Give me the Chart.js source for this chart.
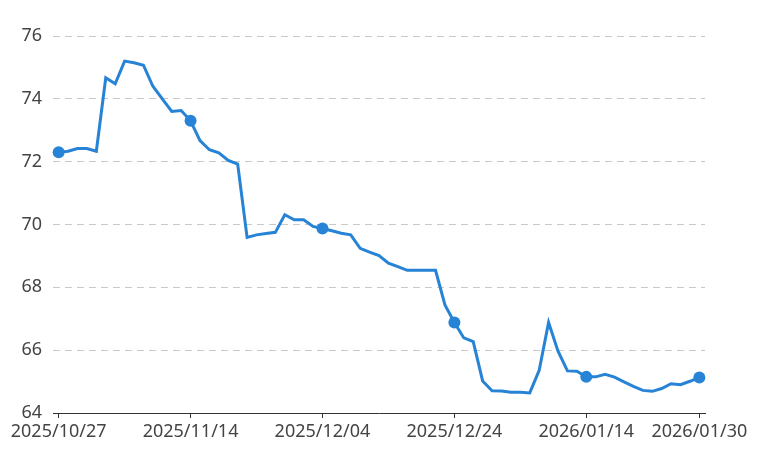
<!DOCTYPE html>
<html>
<head>
<meta charset="utf-8">
<script src="https://cdn.jsdelivr.net/npm/chart.js@4"></script>
<style>
  html, body { margin: 0; padding: 0; background: #fff; }
  #wrap { width: 771px; height: 450px; }
</style>
</head>
<body>
<div id="wrap"><canvas id="chart_price"></canvas></div>
<script>
// fechas (dias de mercado) y precios
const fechas = [
  '2025/10/27', '2025/10/28', '2025/10/29', '2025/10/30', '2025/10/31',
  '2025/11/03', '2025/11/04', '2025/11/05', '2025/11/06', '2025/11/07',
  '2025/11/10', '2025/11/11', '2025/11/12', '2025/11/13', '2025/11/14',
  '2025/11/17', '2025/11/18', '2025/11/19', '2025/11/20', '2025/11/21',
  '2025/11/24', '2025/11/25', '2025/11/26', '2025/11/27', '2025/11/28',
  '2025/12/01', '2025/12/02', '2025/12/03', '2025/12/04', '2025/12/05',
  '2025/12/08', '2025/12/09', '2025/12/10', '2025/12/11', '2025/12/12',
  '2025/12/15', '2025/12/16', '2025/12/17', '2025/12/18', '2025/12/19',
  '2025/12/22', '2025/12/23', '2025/12/24', '2025/12/25', '2025/12/26',
  '2025/12/29', '2025/12/30', '2025/12/31', '2026/01/02', '2026/01/05',
  '2026/01/06', '2026/01/07', '2026/01/08', '2026/01/09', '2026/01/12',
  '2026/01/13', '2026/01/14', '2026/01/15', '2026/01/16', '2026/01/19',
  '2026/01/20', '2026/01/21', '2026/01/22', '2026/01/23', '2026/01/26',
  '2026/01/27', '2026/01/28', '2026/01/29', '2026/01/30'
]
const precios = [
  72.30, 72.33, 72.42, 72.42, 72.33, 74.67, 74.48, 75.20, 75.15, 75.07,
  74.40, 74.00, 73.60, 73.63, 73.30, 72.67, 72.38, 72.28, 72.04, 71.92,
  69.59, 69.67, 69.71, 69.75, 70.31, 70.15, 70.15, 69.94, 69.87, 69.80,
  69.72, 69.67, 69.24, 69.12, 69.01, 68.77, 68.66, 68.54, 68.54, 68.54,
  68.54, 67.44, 66.88, 66.39, 66.27, 65.02, 64.71, 64.70, 64.66, 64.66,
  64.64, 65.36, 66.88, 65.97, 65.34, 65.33, 65.15, 65.15, 65.23, 65.14,
  64.99, 64.85, 64.72, 64.69, 64.78, 64.93, 64.90, 65.01, 65.13
]
// indices con etiqueta en el eje x (y con punto marcado)
const tick_idx = [0, 14, 28, 42, 56, 68]
const y_ticks = [64, 66, 68, 70, 72, 74, 76]

const text_color = '#444'
const line_color = '#2683d6'

let chart = document.querySelector('#chart_price')
let datos = {
    data: precios.map((p, i) => ({ x: i, y: p })),
    borderColor: line_color,
    backgroundColor: line_color,
    borderWidth: 3,
    tension: 0,
    clip: false,
    pointRadius: ctx => tick_idx.includes(ctx.dataIndex) ? 6 : 0,
    pointHoverRadius: 0,
    pointBorderWidth: 0,
}
const historic_chart = new Chart(chart, {
    type: 'line',
    data: { datasets: [datos] },
    options: {
        responsive: true,
        maintainAspectRatio: false,
        animation: false,
        layout: { padding: { top: 36, right: 66, bottom: 0, left: 0 } },
        scales: {
            x: {
                type: 'linear',
                min: -0.6,
                max: 68.6,
                afterBuildTicks: scale => {
                    scale.ticks = tick_idx.map(v => ({ value: v }))
                },
                afterFit: scale => { scale.height = 37 },
                ticks: {
                    autoSkip: false,
                    maxRotation: 0,
                    padding: 3,
                    color: text_color,
                    font: { family: 'Noto Sans', size: 18 },
                    callback: v => fechas[v] || '',
                },
                grid: {
                    drawOnChartArea: false,
                    drawTicks: true,
                    tickLength: 5,
                    color: '#333',
                    lineWidth: 1,
                },
                border: { display: true, color: '#333', width: 1 },
            },
            y: {
                min: 64,
                max: 76,
                afterBuildTicks: scale => {
                    scale.ticks = y_ticks.map(v => ({ value: v }))
                },
                afterFit: scale => { scale.width = 53 },
                ticks: {
                    padding: 11,
                    color: text_color,
                    font: { family: 'Noto Sans', size: 18 },
                },
                grid: {
                    drawTicks: false,
                    color: ctx => ctx.tick.value === 64 ? 'rgba(0,0,0,0)' : '#c8c8c8',
                    lineWidth: 1,
                },
                border: { display: false, dash: [7, 5] },
            },
        },
        plugins: {
            legend: { display: false },
            tooltip: { enabled: false },
        },
    }
})
</script>
</body>
</html>
